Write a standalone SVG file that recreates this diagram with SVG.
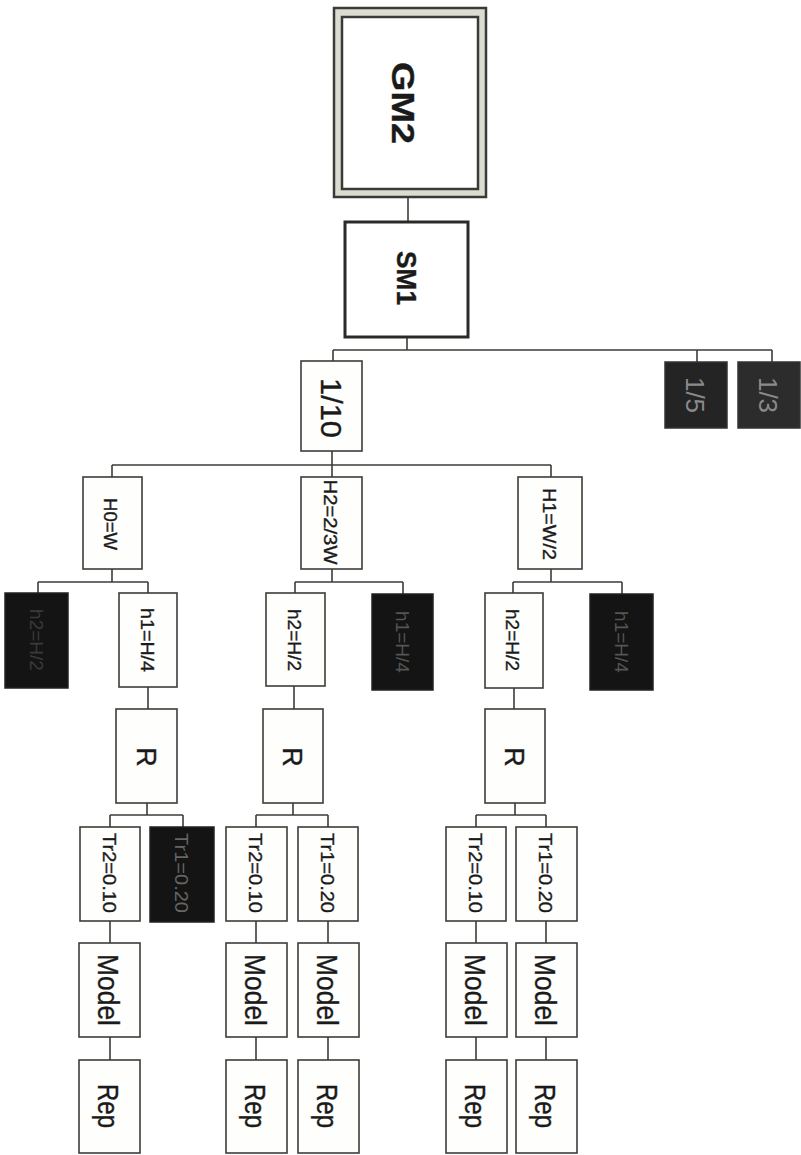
<svg xmlns="http://www.w3.org/2000/svg" width="801" height="1155" viewBox="0 0 801 1155">
<style>
.b{fill:#fefefc;stroke:#3c3c38;stroke-width:1.6}
.d{fill:#141414;stroke:#222;stroke-width:1.5}
.t{font-family:"Liberation Sans",Arial,sans-serif;fill:#1a1a1a;stroke:#1a1a1a;stroke-width:0.35;text-anchor:middle;dominant-baseline:central}
.dt{font-family:"Liberation Sans",Arial,sans-serif;text-anchor:middle;dominant-baseline:central}
.c{fill:none;stroke:#3c3c38;stroke-width:1.6}
</style>
<rect width="801" height="1155" fill="#ffffff"/>
<g id="connectors" class="c">
<path d="M408,198V222"/>
<path d="M407,337V350M333,350H772M333,350V361M697,350V362M772,350V362"/>
<path d="M332,451V465M112,465H551M112,465V477M332,465V477M551,465V477"/>
<path d="M112,569V582M38,582H148M38,582V593M148,582V593"/>
<path d="M332,569V582M295,582H403M295,582V593M403,582V594"/>
<path d="M551,569V582M513,582H622M513,582V593M622,582V594"/>
<path d="M148,687V709M294,686V709M514,688V709"/>
<path d="M147,803V815M110,815H183M110,815V827M183,815V827"/>
<path d="M293,803V815M256,815H328M256,815V827M328,815V827"/>
<path d="M515,803V815M476,815H546M476,815V827M546,815V827"/>
<path d="M110,921V943M256,921V943M328,921V943M476,921V943M546,921V943"/>
<path d="M110,1037V1060M256,1037V1060M328,1037V1060M476,1037V1060M546,1037V1060"/>
</g>
<g id="GM2">
<rect x="334" y="8" width="152" height="189" fill="#dcdcd2" stroke="#3a3a36" stroke-width="2.5"/>
<rect x="342" y="17" width="136" height="172" fill="#ffffff" stroke="#3a3a36" stroke-width="2.5"/>
<text class="t" font-size="32" font-weight="bold" textLength="82" lengthAdjust="spacingAndGlyphs" transform="translate(403,103) rotate(90)">GM2</text>
</g>
<g id="SM1">
<rect x="345" y="222" width="123" height="115" fill="#ffffff" stroke="#2a2a28" stroke-width="3"/>
<text class="t" font-size="27" font-weight="bold" textLength="54" lengthAdjust="spacingAndGlyphs" transform="translate(406,278) rotate(90)">SM1</text>
</g>
<g id="n1_10">
<rect class="b" x="301" y="361" width="61" height="90"/>
<text class="t" font-size="30" textLength="60" lengthAdjust="spacingAndGlyphs" transform="translate(331,408) rotate(90)">1/10</text>
</g>
<g id="n1_5">
<rect x="665" y="362" width="62" height="66" fill="#242424" stroke="#333" stroke-width="1.5"/>
<text class="dt" fill="#8a8a8a" font-size="26" transform="translate(695,395) rotate(90)">1/5</text>
</g>
<g id="n1_3">
<rect x="738" y="362" width="62" height="66" fill="#2c2c2c" stroke="#333" stroke-width="1.5"/>
<text class="dt" fill="#8a8a8a" font-size="26" transform="translate(768,395) rotate(90)">1/3</text>
</g>
<g id="H0W">
<rect class="b" x="83" y="477" width="59" height="92"/>
<text class="t" font-size="19" textLength="52" lengthAdjust="spacingAndGlyphs" transform="translate(110,524) rotate(90)">H0=W</text>
</g>
<g id="H2">
<rect class="b" x="301" y="477" width="61" height="92"/>
<text class="t" font-size="19" textLength="85" lengthAdjust="spacingAndGlyphs" transform="translate(330,522) rotate(90)">H2=2/3W</text>
</g>
<g id="H1">
<rect class="b" x="518" y="477" width="64" height="92"/>
<text class="t" font-size="19" textLength="72" lengthAdjust="spacingAndGlyphs" transform="translate(549,524) rotate(90)">H1=W/2</text>
</g>
<g id="d4a">
<rect class="d" x="5" y="593" width="63" height="95"/>
<text class="dt" fill="#3a3a3a" font-size="19" transform="translate(36,640) rotate(90)">h2=H/2</text>
</g>
<g id="h1a">
<rect class="b" x="119" y="593" width="58" height="94"/>
<text class="t" font-size="19" textLength="64" lengthAdjust="spacingAndGlyphs" transform="translate(147,640) rotate(90)">h1=H/4</text>
</g>
<g id="h2b">
<rect class="b" x="266" y="593" width="59" height="93"/>
<text class="t" font-size="19" textLength="62" lengthAdjust="spacingAndGlyphs" transform="translate(294,640) rotate(90)">h2=H/2</text>
</g>
<g id="d4b">
<rect class="d" x="372" y="594" width="61" height="96"/>
<text class="dt" fill="#555" font-size="19" transform="translate(402,642) rotate(90)">h1=H/4</text>
</g>
<g id="h2c">
<rect class="b" x="485" y="593" width="58" height="95"/>
<text class="t" font-size="19" textLength="62" lengthAdjust="spacingAndGlyphs" transform="translate(512,640) rotate(90)">h2=H/2</text>
</g>
<g id="d4c">
<rect class="d" x="590" y="594" width="63" height="96"/>
<text class="dt" fill="#555" font-size="19" transform="translate(621,642) rotate(90)">h1=H/4</text>
</g>
<g id="R1">
<rect class="b" x="116" y="709" width="61" height="94"/>
<text class="t" font-size="27" transform="translate(146,757) rotate(90)">R</text>
</g>
<g id="R2">
<rect class="b" x="263" y="709" width="60" height="94"/>
<text class="t" font-size="27" transform="translate(292,757) rotate(90)">R</text>
</g>
<g id="R3">
<rect class="b" x="485" y="709" width="60" height="94"/>
<text class="t" font-size="27" transform="translate(514,757) rotate(90)">R</text>
</g>
<g id="Tr2a">
<rect class="b" x="80" y="827" width="60" height="94"/>
<text class="t" font-size="19" textLength="80" lengthAdjust="spacingAndGlyphs" transform="translate(109,873) rotate(90)">Tr2=0.10</text>
</g>
<g id="Tr1a">
<rect class="d" x="150" y="827" width="64" height="95"/>
<text class="dt" fill="#666" font-size="19" textLength="80" lengthAdjust="spacingAndGlyphs" transform="translate(181,873) rotate(90)">Tr1=0.20</text>
</g>
<g id="Tr2b">
<rect class="b" x="226" y="827" width="61" height="94"/>
<text class="t" font-size="19" textLength="80" lengthAdjust="spacingAndGlyphs" transform="translate(255,873) rotate(90)">Tr2=0.10</text>
</g>
<g id="Tr1b">
<rect class="b" x="298" y="827" width="60" height="94"/>
<text class="t" font-size="19" textLength="80" lengthAdjust="spacingAndGlyphs" transform="translate(327,873) rotate(90)">Tr1=0.20</text>
</g>
<g id="Tr2c">
<rect class="b" x="446" y="827" width="60" height="94"/>
<text class="t" font-size="19" textLength="80" lengthAdjust="spacingAndGlyphs" transform="translate(475,873) rotate(90)">Tr2=0.10</text>
</g>
<g id="Tr1c">
<rect class="b" x="516" y="827" width="61" height="94"/>
<text class="t" font-size="19" textLength="80" lengthAdjust="spacingAndGlyphs" transform="translate(545,873) rotate(90)">Tr1=0.20</text>
</g>
<g id="Model1"><rect class="b" x="79" y="943" width="61" height="94"/><text class="t" font-size="29" textLength="72" lengthAdjust="spacingAndGlyphs" transform="translate(108,990) rotate(90)">Model</text></g>
<g id="Model2"><rect class="b" x="226" y="943" width="61" height="94"/><text class="t" font-size="29" textLength="72" lengthAdjust="spacingAndGlyphs" transform="translate(255,990) rotate(90)">Model</text></g>
<g id="Model3"><rect class="b" x="298" y="943" width="61" height="94"/><text class="t" font-size="29" textLength="72" lengthAdjust="spacingAndGlyphs" transform="translate(327,990) rotate(90)">Model</text></g>
<g id="Model4"><rect class="b" x="446" y="943" width="61" height="94"/><text class="t" font-size="29" textLength="72" lengthAdjust="spacingAndGlyphs" transform="translate(475,990) rotate(90)">Model</text></g>
<g id="Model5"><rect class="b" x="516" y="943" width="61" height="94"/><text class="t" font-size="29" textLength="72" lengthAdjust="spacingAndGlyphs" transform="translate(545,990) rotate(90)">Model</text></g>
<g id="Rep1"><rect class="b" x="79" y="1060" width="61" height="93"/><text class="t" font-size="29" textLength="44" lengthAdjust="spacingAndGlyphs" transform="translate(108,1106) rotate(90)">Rep</text></g>
<g id="Rep2"><rect class="b" x="226" y="1060" width="61" height="93"/><text class="t" font-size="29" textLength="44" lengthAdjust="spacingAndGlyphs" transform="translate(255,1106) rotate(90)">Rep</text></g>
<g id="Rep3"><rect class="b" x="298" y="1060" width="61" height="93"/><text class="t" font-size="29" textLength="44" lengthAdjust="spacingAndGlyphs" transform="translate(327,1106) rotate(90)">Rep</text></g>
<g id="Rep4"><rect class="b" x="446" y="1060" width="61" height="93"/><text class="t" font-size="29" textLength="44" lengthAdjust="spacingAndGlyphs" transform="translate(475,1106) rotate(90)">Rep</text></g>
<g id="Rep5"><rect class="b" x="516" y="1060" width="61" height="93"/><text class="t" font-size="29" textLength="44" lengthAdjust="spacingAndGlyphs" transform="translate(545,1106) rotate(90)">Rep</text></g>
</svg>
